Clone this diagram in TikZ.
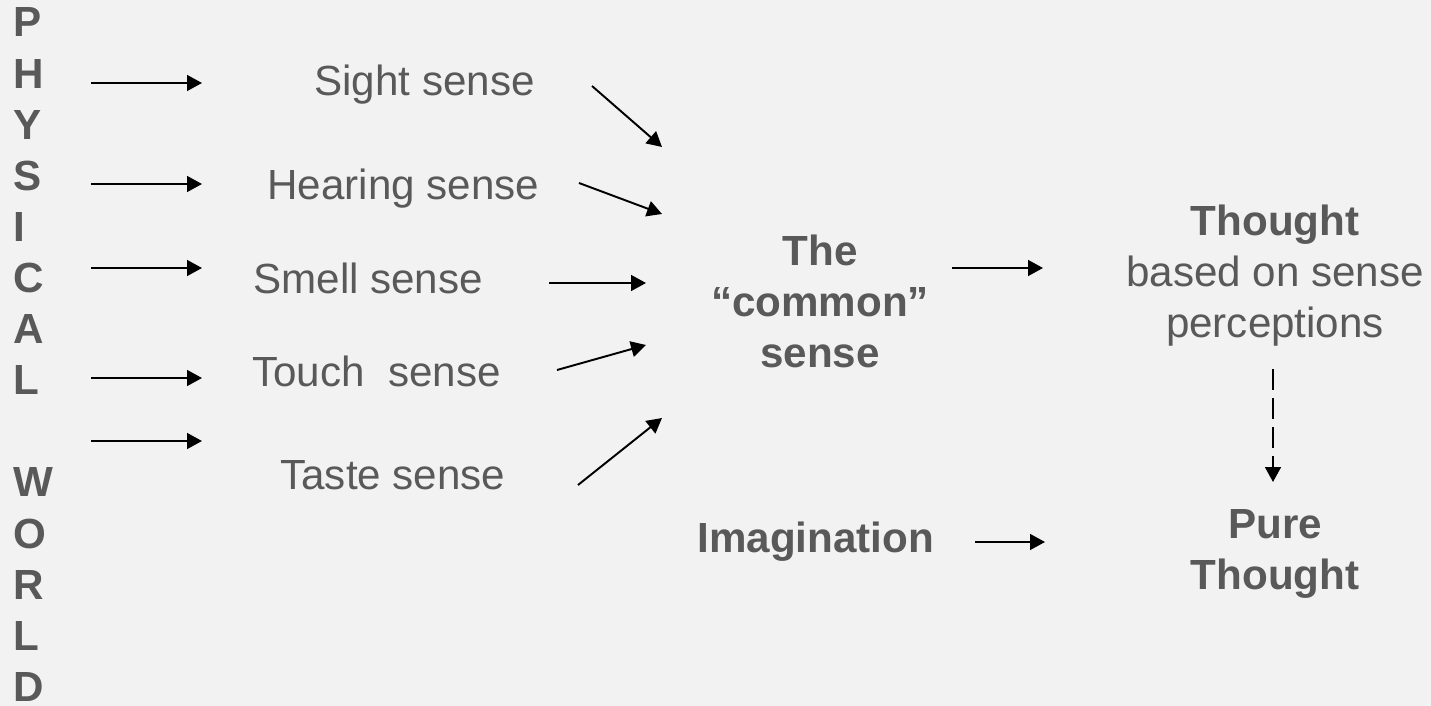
\documentclass[tikz,border=0pt]{standalone}
\usepackage{fontspec}
\setmainfont{Liberation Sans}
\usetikzlibrary{arrows.meta,positioning}
\definecolor{txtgray}{HTML}{595959}
\definecolor{bggray}{HTML}{F2F2F2}

\begin{document}
\begin{tikzpicture}[
  x=0.02cm, y=-0.02cm,
  txt/.style={text=txtgray, inner sep=0pt, font=\fontsize{24}{29}\selectfont},
  btxt/.style={txt, font=\fontsize{24}{29}\selectfont\bfseries},
  edge/.style={-{Triangle[length=8.5pt,width=9pt]}, line width=1.1pt},
  dedge/.style={edge, dash pattern=on 12pt off 4.5pt}
]

% --- Background ---
\fill[bggray] (0,0) rectangle (1431,706);

% --- Physical world ---
\foreach \ch [count=\i from 0] in {P,H,Y,S,I,C,A,L,{},W,O,R,L,D}
  \node[btxt, anchor=base west] (pw\i) at (13,37+51.1*\i) {\ch};

\foreach \y [count=\i] in {83,184,268,378,441} {
  \coordinate (ws\i) at (91,\y);
  \coordinate (we\i) at (202,\y);
  \draw[edge] (ws\i) -- (we\i);
}

% --- Senses ---
\node[txt, anchor=base west] (sight)   at (314,96)  {Sight sense};
\node[txt, anchor=base west] (hearing) at (267,199) {Hearing sense};
\node[txt, anchor=base west] (smell)   at (253,293) {Smell sense};
\node[txt, anchor=base west] (touch)   at (252,386) {Touch\ \ sense};
\node[txt, anchor=base west] (taste)   at (280,489) {Taste sense};

% --- Common sense (base = last line) ---
\node[btxt, align=center, anchor=base] (common) at (820,367) {The\\“common”\\sense};

\coordinate (s1) at (592,86);  \coordinate (c1) at (662,147);
\coordinate (s2) at (579,183); \coordinate (c2) at (662,214);
\coordinate (s3) at (549,283); \coordinate (c3) at (646,283);
\coordinate (s4) at (557,370); \coordinate (c4) at (646,345);
\coordinate (s5) at (578,485); \coordinate (c5) at (662,418);

\draw[edge] (s1) -- (c1);
\draw[edge] (s2) -- (c2);
\draw[edge] (s3) -- (c3);
\draw[edge] (s4) -- (c4);
\draw[edge] (s5) -- (c5);

% --- Thought ---
\node[txt, align=center, anchor=base] (thought) at (1275,337)
  {\textbf{Thought}\\based on sense\\perceptions};
\node[btxt, anchor=base west] (imag) at (697,552) {Imagination};
\node[btxt, align=center, anchor=base] (pure) at (1275,589) {Pure\\Thought};

\coordinate (cs) at (952,268);  \coordinate (ct) at (1043,268);
\coordinate (is) at (975,542);  \coordinate (it) at (1045,542);
\coordinate (ts) at (1273,369); \coordinate (tp) at (1273,482);

\draw[edge] (cs) -- (ct);
\draw[edge] (is) -- (it);
\draw[dedge] (ts) -- (tp);
\end{tikzpicture}
\end{document}
